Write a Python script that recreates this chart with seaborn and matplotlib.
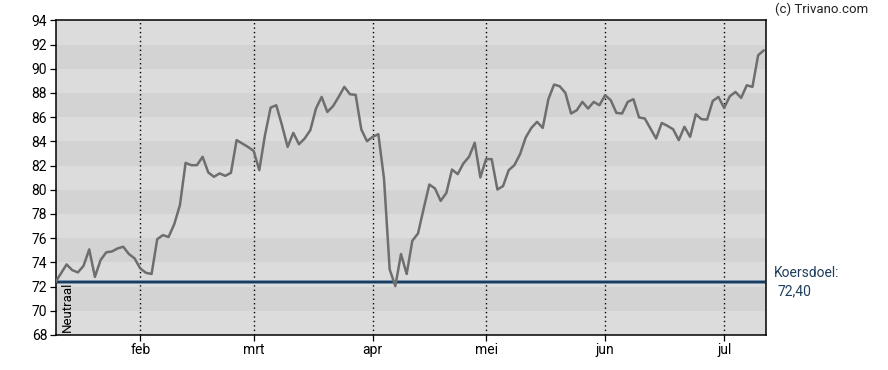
import numpy as np
import pandas as pd
import matplotlib
matplotlib.use("Agg")
import matplotlib.pyplot as plt
import seaborn as sns

# ---- data ----
day_index = [0] + list(range(2, 126))
koers = [
    72.33, 73.83, 73.36, 73.17, 73.72, 75.07, 72.80, 74.19, 74.83, 74.90,
    75.15, 75.29, 74.69, 74.33, 73.50, 73.14, 73.04, 75.92, 76.25, 76.10,
    77.16, 78.73, 82.22, 82.03, 82.03, 82.72, 81.43, 81.07, 81.35, 81.15,
    81.40, 84.10, 83.82, 83.54, 83.21, 81.62, 84.50, 86.79, 86.98, 85.33,
    83.54, 84.70, 83.76, 84.23, 84.92, 86.71, 87.67, 86.43, 86.90, 87.67,
    88.50, 87.89, 87.84, 84.98, 84.01, 84.37, 84.59, 80.93, 73.42, 72.04,
    74.69, 73.04, 75.79, 76.39, 78.45, 80.43, 80.10, 79.08, 79.74, 81.67,
    81.29, 82.17, 82.72, 83.88, 81.02, 82.53, 82.53, 80.02, 80.30, 81.62,
    82.03, 82.94, 84.32, 85.11, 85.61, 85.11, 87.48, 88.69, 88.55, 88.00,
    86.30, 86.57, 87.26, 86.71, 87.26, 86.98, 87.81, 87.40, 86.35, 86.30,
    87.26, 87.48, 85.97, 85.89, 85.06, 84.23, 85.52, 85.28, 85.00, 84.10,
    85.20, 84.37, 86.24, 85.83, 85.80, 87.34, 87.67, 86.76, 87.72, 88.08,
    87.59, 88.63, 88.50, 91.11, 91.52,
]
month_labels = ["feb", "mrt", "apr", "mei", "jun", "jul"]
month_index = [15, 35, 56, 76, 97, 118]
koersdoel = 72.40
y_ticks = list(range(68, 95, 2))

df = pd.DataFrame({"dag": day_index, "koers": koers})

sns.set_theme(style="white")
plt.rcParams["font.family"] = ["Roboto", "DejaVu Sans"]

fig = plt.figure(figsize=(8.88, 3.70), dpi=100)
ax = fig.add_axes([55.5 / 888, (370 - 335) / 370, 710 / 888, 314.7 / 370])

# background bands
ax.set_facecolor("#dcdcdc")
for lo in range(70, 94, 4):
    ax.axhspan(lo, lo + 2, color="#d3d3d3", lw=0, zorder=0)

# month separators
for m in month_index:
    ax.axvline(m, color="black", lw=1.0, ls=(0, (1, 2.2)), zorder=1)

# target line
ax.axhline(koersdoel, color="#6e8fb0", lw=2.8, zorder=2)
ax.axhline(koersdoel, color="#17324f", lw=1.3, zorder=3)

sns.lineplot(data=df, x="dag", y="koers", ax=ax, color="#6e6e6e", lw=1.8,
             zorder=4, legend=False)

ax.set_xlim(0.05, 125.3)
ax.set_ylim(68, 94)
ax.set_yticks(y_ticks)
ax.set_yticklabels([str(v) for v in y_ticks])
ax.set_xticks(month_index)
ax.set_xticklabels(month_labels)
ax.set_xlabel("")
ax.set_ylabel("")
ax.tick_params(axis="both", which="both", direction="out", length=4, width=0.9,
               color="black", labelsize=10, labelcolor="black", pad=2,
               left=True, bottom=True)
for s in ax.spines.values():
    s.set_visible(True)
    s.set_color("black")
    s.set_linewidth(1.1)
ax.grid(False)

ax.text(0.008, 0.01, "Neutraal", transform=ax.transAxes, rotation=90,
        fontsize=9.5, color="black", ha="left", va="bottom", zorder=5)

fig.text(775 / 888, 1 - 9 / 370, "(c) Trivano.com", fontsize=9.5,
         color="#222222", ha="left", va="center")
fig.text(774 / 888, 1 - 273 / 370, "Koersdoel:", fontsize=10,
         color="#1f3d5c", ha="left", va="center")
fig.text(777 / 888, 1 - 291 / 370, "72,40", fontsize=10,
         color="#1f3d5c", ha="left", va="center")

fig.savefig("out.png", dpi=100, facecolor="white")
